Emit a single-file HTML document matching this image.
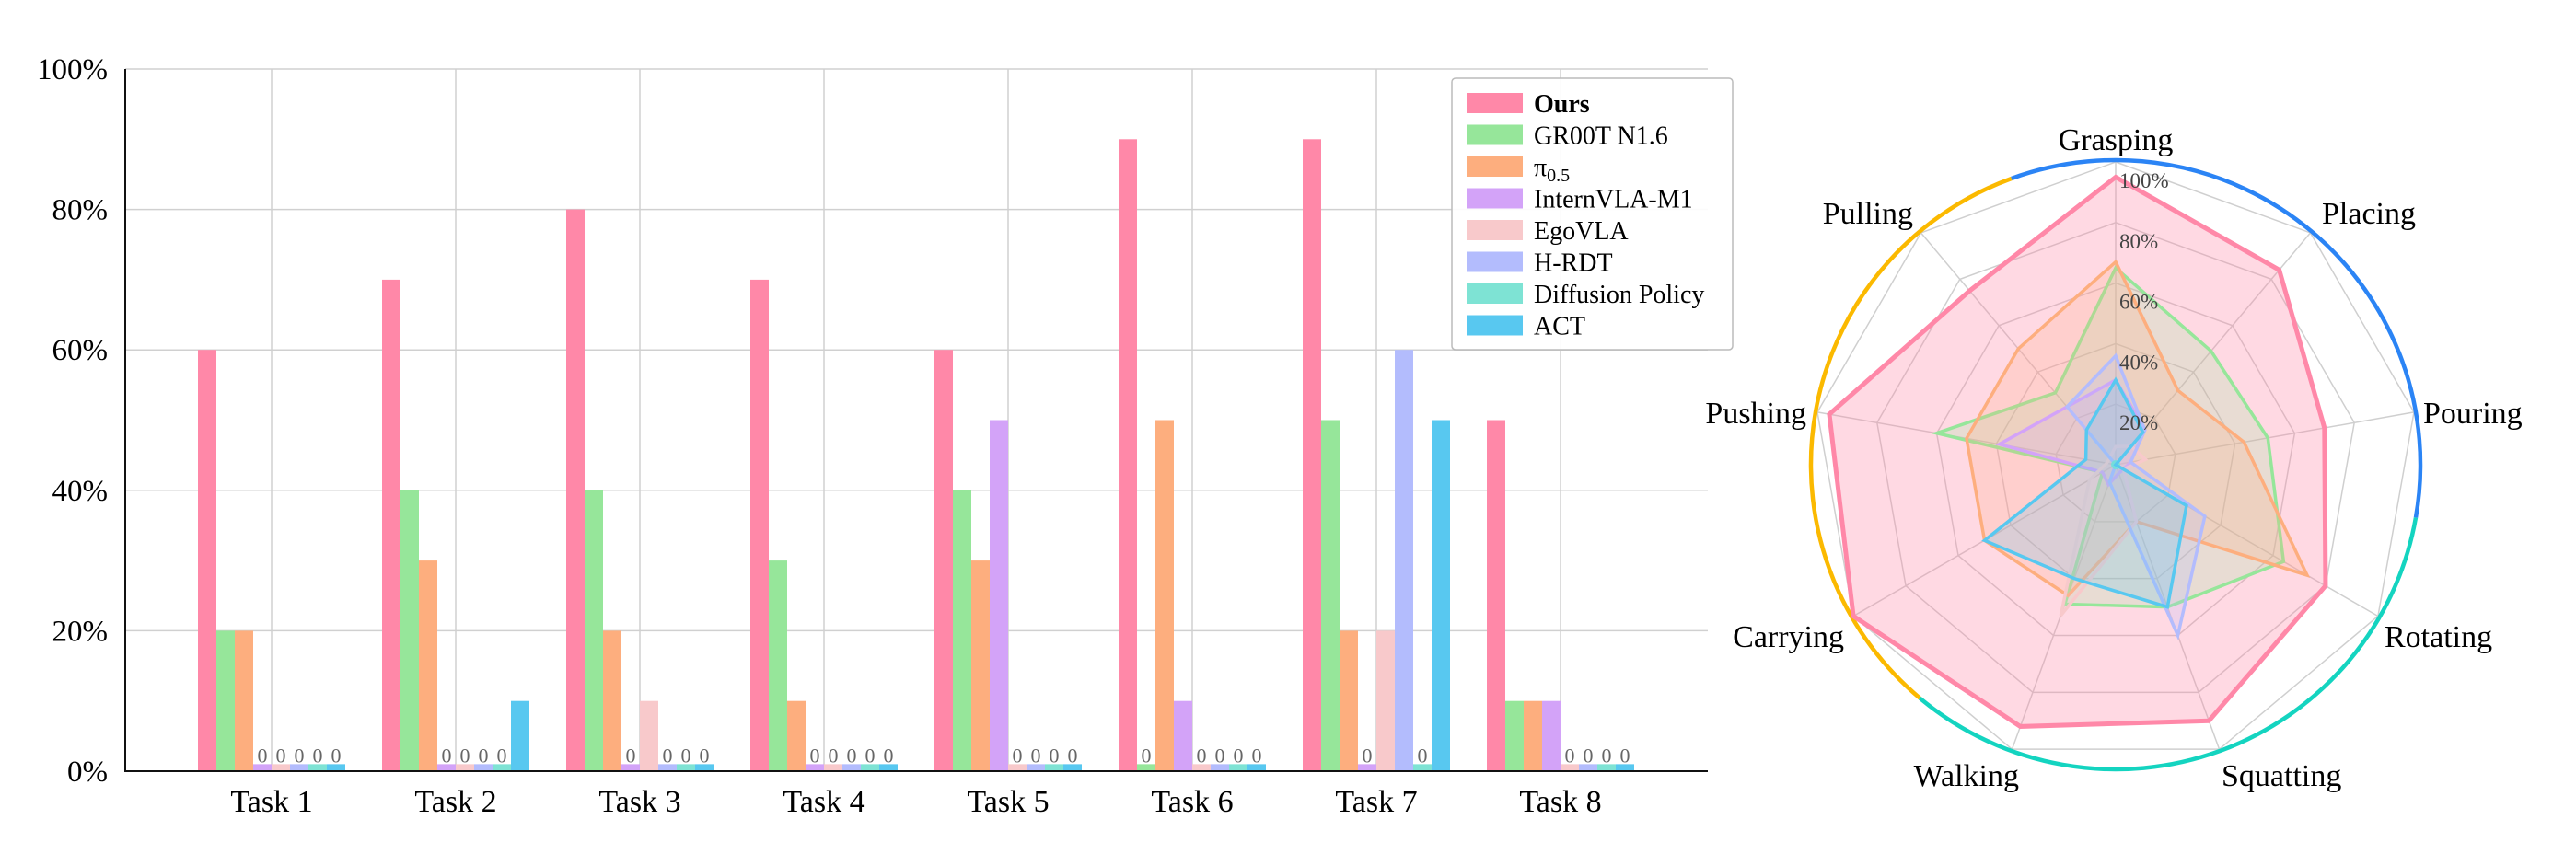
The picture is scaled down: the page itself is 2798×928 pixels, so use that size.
<!DOCTYPE html>
<html><head><meta charset="utf-8"><style>
html,body{margin:0;padding:0;background:#fff;}
svg{display:block;font-family:"Liberation Serif","DejaVu Serif",serif;}
</style></head><body>
<svg id="fig" width="2798" height="928" viewBox="0 0 2798 928" xmlns="http://www.w3.org/2000/svg">
<g id="bar"></g>
<g id="radar"></g>
</svg>
<script>
// ---------- Bar chart data ----------
const tasks = ["Task 1","Task 2","Task 3","Task 4","Task 5","Task 6","Task 7","Task 8"];
const seriesNames = ["Ours","GR00T N1.6","π0.5","InternVLA-M1","EgoVLA","H-RDT","Diffusion Policy","ACT"];
const oursVals   = [60,70,80,70,60,90,90,50];
const grootVals  = [20,40,40,30,40,0,50,10];
const piVals     = [20,30,20,10,30,50,20,10];
const internVals = [0,0,0,0,50,10,0,10];
const egoVals    = [0,0,10,0,0,0,20,0];
const hrdtVals   = [0,0,0,0,0,0,60,0];
const dpVals     = [0,0,0,0,0,0,0,0];
const actVals    = [0,10,0,0,0,0,50,0];
const yTicks = [0,20,40,60,80,100];
const yTickLabels = ["0%","20%","40%","60%","80%","100%"];

// ---------- Radar data ----------
const skills = ["Grasping","Placing","Pouring","Rotating","Squatting","Walking","Carrying","Pushing","Pulling"];
const rOurs   = [95,84,70,80,90,92,100,96,75];
const rGroot  = [65,49,51,64,50,49,5,60,31];
const rPi     = [67,32,43,73,20,46,50,50,50];
const rIntern = [28,15,5,3,3,7,5,39,25];
const rEgo    = [6,8,10,3,20,53,10,3,3];
const rHrdt   = [36,15,5,34,60,6,0,0,25];
const rDp     = [1,1,1,1,1,1,1,1,1];
const rAct    = [28,14,0,27,50,40,50,10,15];
const rTicks = [20,40,60,80,100];
const rTickLabels = ["20%","40%","60%","80%","100%"];

const colors = ["#ff88a8","#96e69a","#fdae7e","#d3a3f8","#f8c9cb","#b3bcfd","#7ee3d4","#58c8f0"];
const NS = "http://www.w3.org/2000/svg";
function mk(tag, attrs, parent){const e=document.createElementNS(NS,tag);for(const k in attrs)e.setAttribute(k,attrs[k]);parent.appendChild(e);return e;}

// ---------- Bar chart ----------
(function(){
  const g = document.getElementById('bar');
  const x0=136, x1=1855, yTop=75, yBot=838;
  const y = v => yBot - (v/100)*(yBot-yTop);
  const cx = i => 295 + i*200;
  const bw = 20;
  const allVals=[oursVals,grootVals,piVals,internVals,egoVals,hrdtVals,dpVals,actVals];
  yTicks.forEach((t,i)=>{
    const l=mk('line',{x1:x0,x2:x1,y1:y(t),y2:y(t),stroke:'#d0d0d0','stroke-width':1.5},g);
    
    
    const tx=mk('text',{x:117,y:y(t)+11,'text-anchor':'end','font-size':33,fill:'#000'},g);
    tx.textContent=yTickLabels[i];
    
    
  });
  tasks.forEach((t,i)=>{
    const l=mk('line',{x1:cx(i),x2:cx(i),y1:yTop,y2:yBot,stroke:'#d0d0d0','stroke-width':1.5},g);
    
    
    const tx=mk('text',{x:cx(i),y:882,'text-anchor':'middle','font-size':34,fill:'#000'},g);
    tx.textContent=t;
    
    
  });
  allVals.forEach((vals,s)=>{
    vals.forEach((v,i)=>{
      const bx=cx(i)-80+s*bw;
      const vv = v===0?1:v;
      const r=mk('rect',{x:bx,y:y(vv),width:bw,height:yBot-y(vv),fill:colors[s]},g);
      
      
      if(v===0){
        const tx=mk('text',{x:bx+bw/2,y:y(1)-2,'text-anchor':'middle','font-size':22,fill:'#666'},g);
        tx.textContent='0';
        
        
      }
    });
  });
  const ax=mk('path',{d:`M${x0} ${yTop} V${yBot} H${x1}`,stroke:'#111','stroke-width':2,fill:'none'},g);
  
  
  // legend
  const lg=mk('g',{},g);
  
  
  mk('rect',{x:1577,y:85,width:305,height:295,rx:4,fill:'#fff','fill-opacity':0.9,stroke:'#bbb','stroke-width':1.5},lg);
  seriesNames.forEach((n,s)=>{
    const yy=101+s*34.5;
    const sw=mk('rect',{x:1593,y:yy,width:61,height:22,fill:colors[s]},lg);
    
    
    const tx=mk('text',{x:1666,y:yy+21,'font-size':28,fill:'#000'},lg);
    
    
    if(s===0){tx.setAttribute('font-weight','bold');tx.textContent=n;}
    else if(n==='π0.5'){tx.textContent='π';const ts=mk('tspan',{'font-size':20,dy:6},tx);ts.textContent='0.5';}
    else tx.textContent=n;
  });
})();

// ---------- Radar ----------
(function(){
  const g=document.getElementById('radar');
  const C=[2298,505], R=329, N=skills.length;
  const ang = i => i*2*Math.PI/N;
  const pt = (i,v) => [C[0]+Math.sin(ang(i))*R*v/100, C[1]-Math.cos(ang(i))*R*v/100];
  rTicks.forEach(t=>{
    const p=skills.map((_,i)=>pt(i,t).join(',')).join(' ');
    const pg=mk('polygon',{points:p,fill:'none',stroke:'#cfcfcf','stroke-width':1.5},g);
    
    
  });
  skills.forEach((s,i)=>{
    const p=pt(i,100);
    const l=mk('line',{x1:C[0],y1:C[1],x2:p[0],y2:p[1],stroke:'#cfcfcf','stroke-width':1.5},g);
    
    
  });
  const arcs=[[-20,100,'#2b84f5'],[100,220,'#14d4c0'],[220,340,'#fbb900']];
  const Rr=331;
  arcs.forEach(a=>{
    const p=d=>[C[0]+Math.sin(d*Math.PI/180)*Rr, C[1]-Math.cos(d*Math.PI/180)*Rr];
    const s=p(a[0]), e=p(a[1]);
    const ar=mk('path',{d:`M${s[0]} ${s[1]} A${Rr} ${Rr} 0 0 1 ${e[0]} ${e[1]}`,stroke:a[2],'stroke-width':4.5,fill:'none'},g);
    
    
  });
  const rAll=[rOurs,rGroot,rPi,rIntern,rEgo,rHrdt,rDp,rAct];
  rAll.forEach((vals,s)=>{
    const p=vals.map((v,i)=>pt(i,v).join(',')).join(' ');
    const pg=mk('polygon',{points:p,fill:colors[s],'fill-opacity':s===0?0.32:0.22,stroke:colors[s],'stroke-width':s===0?5:3.5,'stroke-linejoin':'miter'},g);
    
    
  });
  rTicks.forEach((t,i)=>{
    const yy=C[1]-R*t/100;
    const tx=mk('text',{x:C[0]+4,y:yy+28,'font-size':23,fill:'#444'},g);
    tx.textContent=rTickLabels[i];
    
    
  });
  const labelPos=[[2298,163,'middle'],[2522,243,'start'],[2632,460,'start'],[2590,703,'start'],[2413,854,'start'],[2193,854,'end'],[2003,703,'end'],[1962,460,'end'],[2078,243,'end']];
  skills.forEach((s,i)=>{
    const lp=labelPos[i];
    const tx=mk('text',{x:lp[0],y:lp[1],'text-anchor':lp[2],'font-size':34,fill:'#000'},g);
    tx.textContent=s;
    
    
  });
})();
</script>
</body></html>
